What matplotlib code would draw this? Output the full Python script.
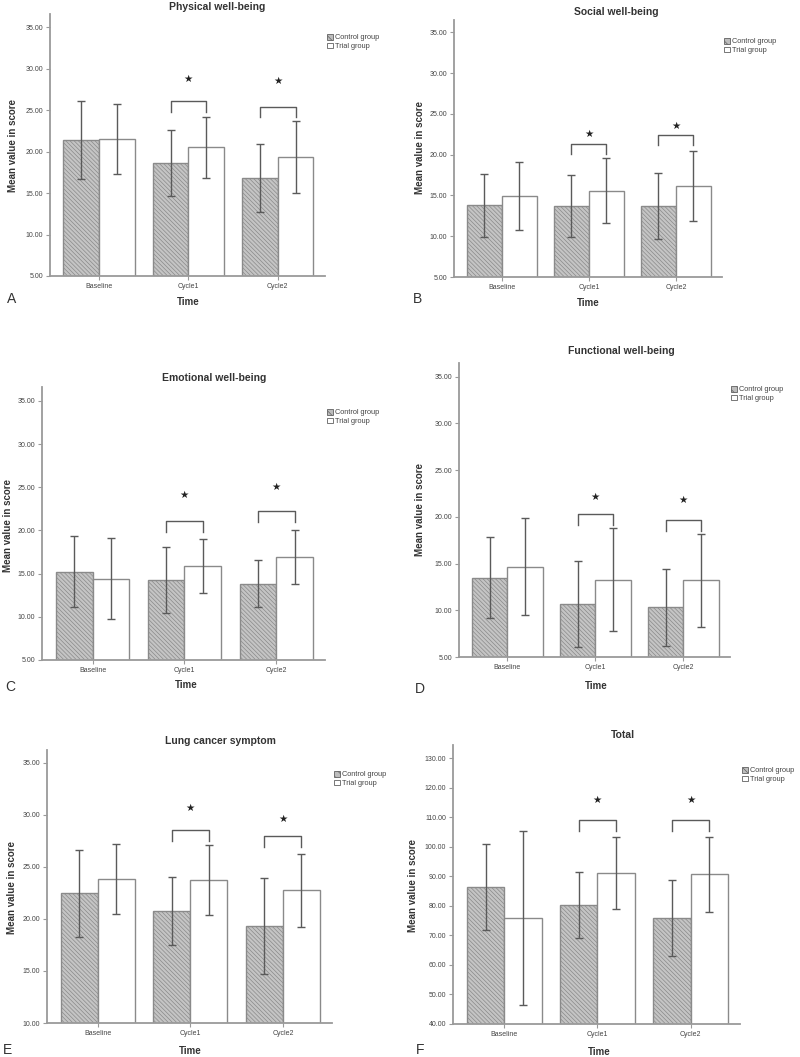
import matplotlib
matplotlib.use("Agg")
import matplotlib.pyplot as plt
from matplotlib.patches import Patch
import numpy as np

plt.rcParams['font.family'] = ['Liberation Sans', 'DejaVu Sans']
plt.rcParams['hatch.linewidth'] = 0.5

categories = ["Baseline", "Cycle1", "Cycle2"]
series_names = ["Control group", "Trial group"]
titles = ["Physical well-being", "Social well-being", "Emotional well-being",
          "Functional well-being", "Lung cancer symptom", "Total"]
panel_letters = ["A", "B", "C", "D", "E", "F"]

# means and SDs
physical_ctrl = [21.4, 18.6, 16.8];   physical_ctrl_sd = [4.7, 3.95, 4.1]
physical_trial = [21.5, 20.5, 19.35]; physical_trial_sd = [4.2, 3.65, 4.3]
social_ctrl = [13.8, 13.7, 13.7];     social_ctrl_sd = [3.85, 3.75, 4.1]
social_trial = [14.95, 15.6, 16.2];   social_trial_sd = [4.15, 4.0, 4.3]
emotional_ctrl = [15.2, 14.25, 13.85]; emotional_ctrl_sd = [4.1, 3.85, 2.7]
emotional_trial = [14.4, 15.9, 16.95]; emotional_trial_sd = [4.7, 3.1, 3.1]
functional_ctrl = [13.5, 10.65, 10.3]; functional_ctrl_sd = [4.35, 4.6, 4.1]
functional_trial = [14.65, 13.25, 13.2]; functional_trial_sd = [5.2, 5.5, 5.0]
lung_ctrl = [22.45, 20.75, 19.35];    lung_ctrl_sd = [4.15, 3.3, 4.6]
lung_trial = [23.8, 23.7, 22.75];     lung_trial_sd = [3.35, 3.35, 3.5]
total_ctrl = [86.5, 80.3, 75.9];      total_ctrl_sd = [14.5, 11.3, 12.9]
total_trial = [75.9, 91.0, 90.8];     total_trial_sd = [29.6, 12.2, 12.7]

# significance brackets (Cycle1, Cycle2): bracket top and star height
physical_bracket = [26.05, 25.4];  physical_star = [28.8, 28.5]
social_bracket = [21.3, 22.4];     social_star = [22.55, 23.55]
emotional_bracket = [21.05, 22.25]; emotional_star = [24.05, 25.05]
functional_bracket = [20.35, 19.7]; functional_star = [22.15, 21.75]
lung_bracket = [28.55, 27.95];     lung_star = [30.6, 29.6]
total_bracket = [109.1, 109.1];    total_star = [115.9, 115.9]

y_ticks = [np.arange(5, 36, 5)] * 4 + [np.arange(10, 36, 5), np.arange(40, 131, 10)]

panels = [
    (physical_ctrl, physical_ctrl_sd, physical_trial, physical_trial_sd, physical_bracket, physical_star),
    (social_ctrl, social_ctrl_sd, social_trial, social_trial_sd, social_bracket, social_star),
    (emotional_ctrl, emotional_ctrl_sd, emotional_trial, emotional_trial_sd, emotional_bracket, emotional_star),
    (functional_ctrl, functional_ctrl_sd, functional_trial, functional_trial_sd, functional_bracket, functional_star),
    (lung_ctrl, lung_ctrl_sd, lung_trial, lung_trial_sd, lung_bracket, lung_star),
    (total_ctrl, total_ctrl_sd, total_trial, total_trial_sd, total_bracket, total_star),
]

W, H = 800, 1057
fig = plt.figure(figsize=(W / 100, H / 100), dpi=100)

# layout in pixels: (left, top, right, bottom)
axes_px = [(50, 14, 325, 276), (454, 20, 722, 277), (42, 387, 325, 660),
           (459, 363, 730, 657), (47, 750, 332, 1023), (453, 745, 740, 1024)]
ylims = [(5, 36.6), (5, 36.5), (5, 36.6), (5, 36.45), (10, 36.2), (40, 134.5)]
title_px = [(217, 7), (616, 12), (214, 378), (621, 351), (220, 741), (623, 735)]
ylabel_px = [(13, 145), (420, 148), (8, 525), (420, 510), (12, 888), (413, 885)]
xlabel_px = [(188, 302), (588, 303), (186, 685), (596, 686), (190, 1051), (599, 1052)]
letter_px = [(12, 299), (417, 299), (10, 687), (420, 689), (8, 1050), (420, 1050)]
legend_px = [(327, 34), (724, 38), (327, 409), (731, 386), (334, 771), (742, 767)]

def fx(x):
    return x / W

def fy(y):
    return 1 - y / H

spine_c = '#9a9a9a'
text_c = '#444444'
x = np.arange(len(categories))
bw = 0.4

for i, (c, csd, t, tsd, br, st) in enumerate(panels):
    l, tp, r, b = axes_px[i]
    ax = fig.add_axes([fx(l), fy(b), (r - l) / W, (b - tp) / H])
    ax.bar(x - bw / 2, c, bw, color='#c4c4c4', edgecolor='#8a8a8a', hatch='\\\\\\\\\\\\\\\\', linewidth=1.0)
    ax.bar(x + bw / 2, t, bw, color='white', edgecolor='#8a8a8a', linewidth=1.0)
    ax.errorbar(x - bw / 2, c, yerr=csd, fmt='none', ecolor='#5a5a5a', elinewidth=1.0, capsize=3.2, capthick=1.0)
    ax.errorbar(x + bw / 2, t, yerr=tsd, fmt='none', ecolor='#5a5a5a', elinewidth=1.0, capsize=3.2, capthick=1.0)
    ymin, ymax = ylims[i]
    leg = 0.04 * (ymax - ymin)
    for k, ci in enumerate([1, 2]):
        x0, x1 = ci - bw / 2, ci + bw / 2
        ax.plot([x0, x0, x1, x1], [br[k] - leg, br[k], br[k], br[k] - leg], color='#5a5a5a', lw=1.0)
        ax.text(ci, st[k], '\u2605', ha='center', va='center', fontsize=7.5, family='DejaVu Sans', color='#222222')
    ax.set_xlim(-0.55, 2.53)
    ax.set_ylim(ymin, ymax)
    ax.set_yticks(y_ticks[i])
    ax.set_yticklabels([f"{v:.2f}" for v in y_ticks[i]])
    ax.set_xticks(x)
    ax.set_xticklabels(categories)
    ax.tick_params(axis='both', labelsize=5, colors=text_c, length=3, width=0.8, pad=2, color=spine_c)
    for s in ['top', 'right']:
        ax.spines[s].set_visible(False)
    for s in ['left', 'bottom']:
        ax.spines[s].set_color(spine_c)
        ax.spines[s].set_linewidth(1.3)
    handles = [Patch(facecolor='#bdbdbd', edgecolor='#606060', hatch='\\\\\\\\', lw=0.6),
               Patch(facecolor='white', edgecolor='#606060', lw=0.6)]
    lx, ly = legend_px[i]
    ax.legend(handles, series_names, loc='upper left', bbox_to_anchor=(fx(lx), fy(ly)),
              bbox_transform=fig.transFigure, frameon=False, fontsize=5.3,
              handlelength=0.8, handleheight=0.8, borderpad=0, borderaxespad=0,
              labelspacing=0.2, handletextpad=0.3, labelcolor=text_c)
    tx, ty = title_px[i]
    fig.text(fx(tx), fy(ty), titles[i], ha='center', va='center', fontsize=7.5, fontweight='bold', color='#333333')
    yx, yy = ylabel_px[i]
    fig.text(fx(yx), fy(yy), "Mean value in score", ha='center', va='center', rotation=90,
             fontsize=7, fontweight='bold', color='#333333')
    xx, xy = xlabel_px[i]
    fig.text(fx(xx), fy(xy), "Time", ha='center', va='center', fontsize=7, fontweight='bold', color='#333333')
    px_, py_ = letter_px[i]
    fig.text(fx(px_), fy(py_), panel_letters[i], ha='center', va='center', fontsize=10, color='#333333')

fig.savefig("out.png", dpi=100, facecolor='white')
